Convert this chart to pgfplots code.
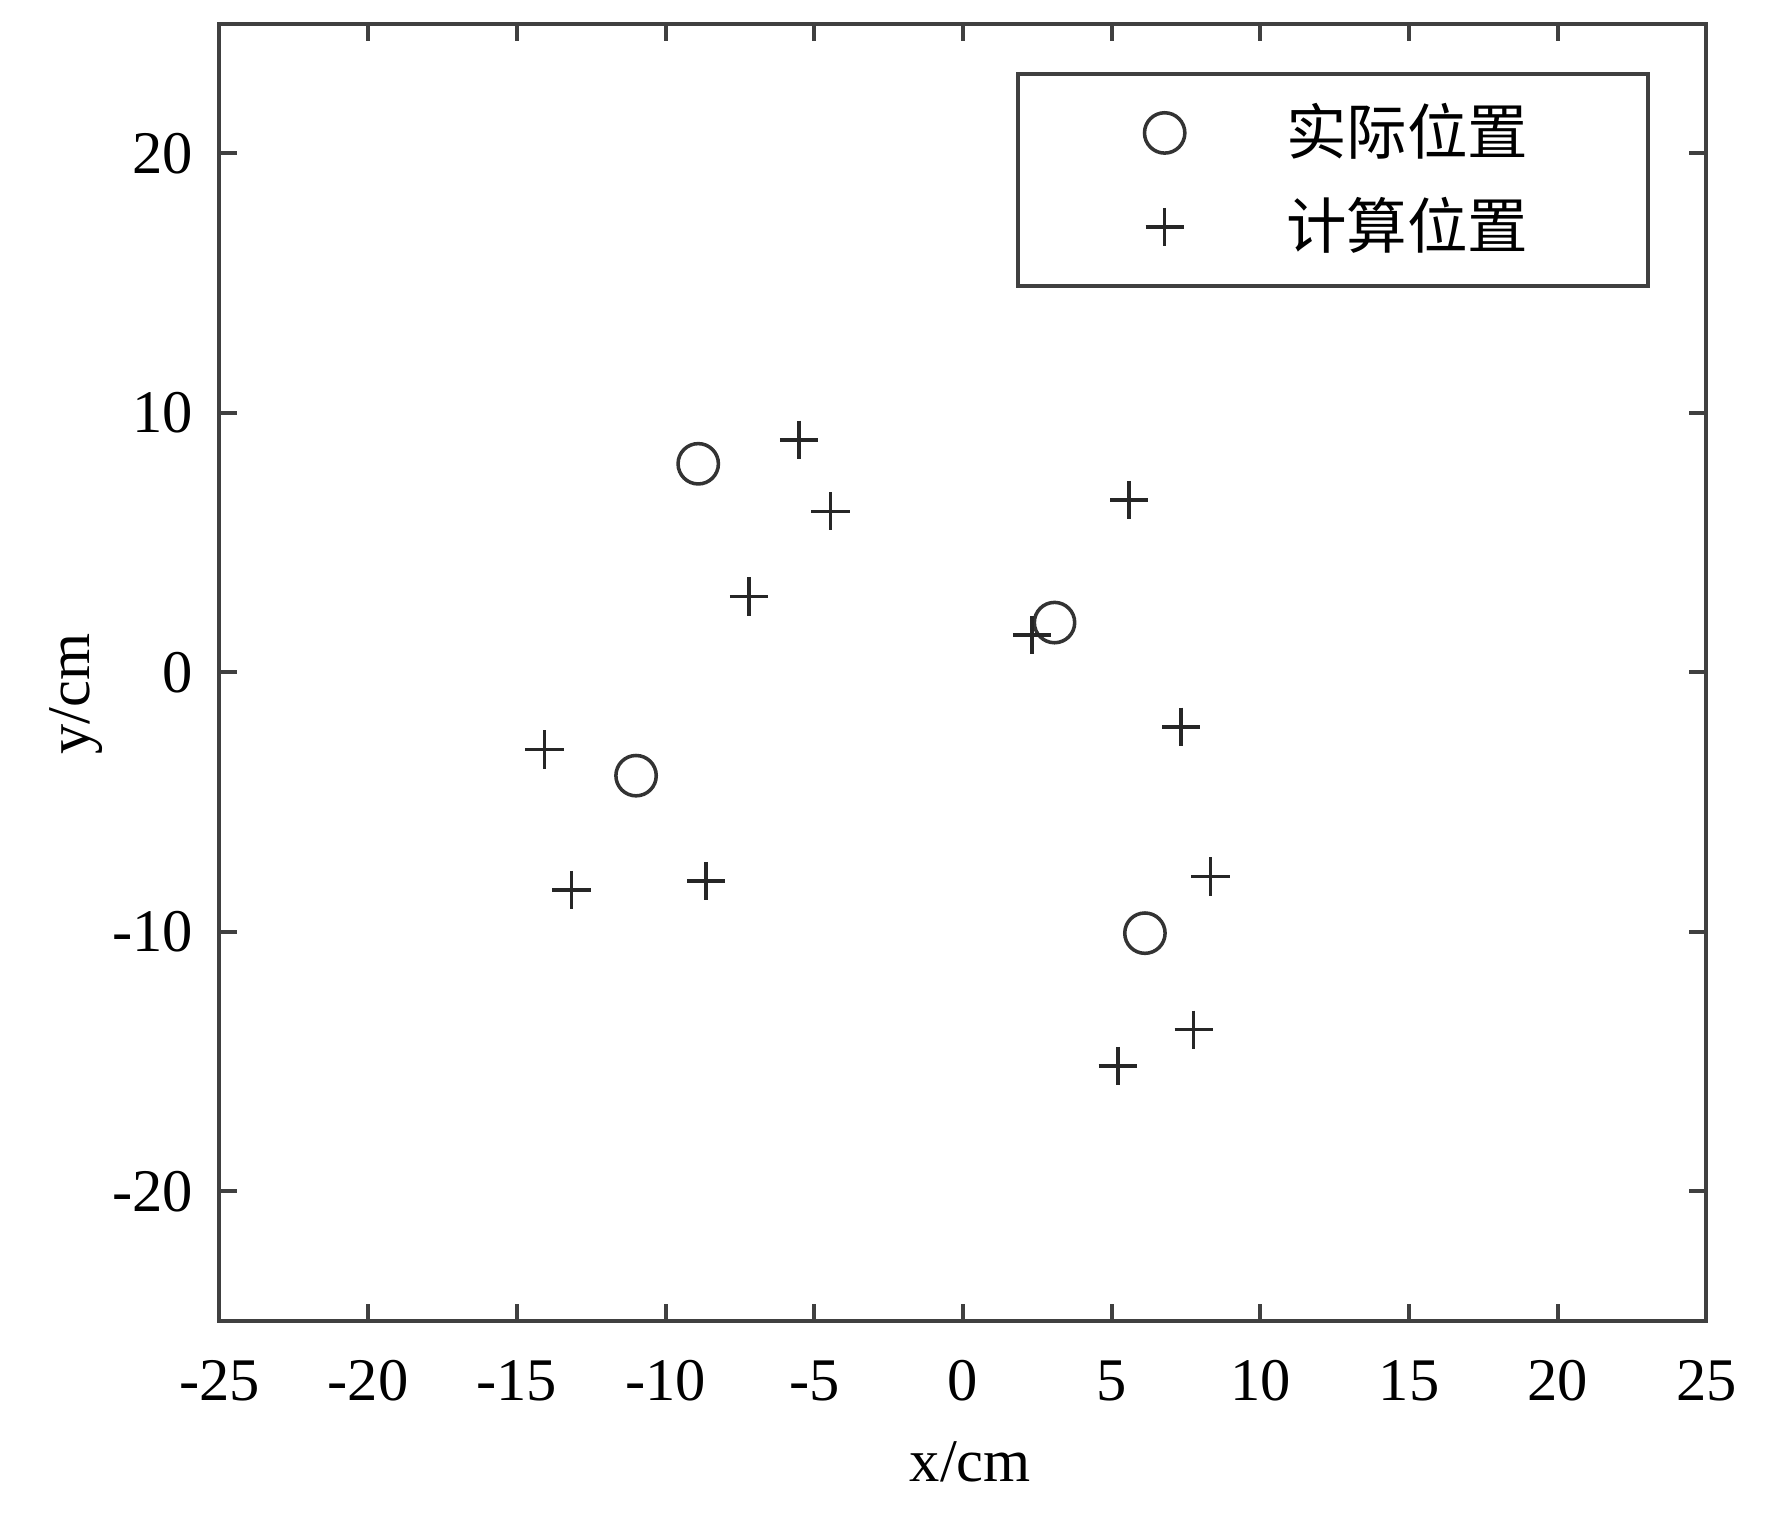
\documentclass[border=0pt]{standalone}
\usepackage{pgfplots}
\pgfplotsset{compat=1.18}
\usepackage{fontspec}
\setmainfont{Liberation Serif}
\newfontfamily\cjk{Noto Sans CJK SC}

\begin{document}
\begin{tikzpicture}
\useasboundingbox (-43.5pt,-41.2pt) rectangle (307.8pt,261.9pt);
\begin{axis}[
  scale only axis, width=294.8pt, height=257.2pt,
  xmin=-25, xmax=25, ymin=-25, ymax=25,
  xtick={-25,-20,...,25},
  xticklabels={-25,-20,-15,-10,-5,0,5,10,15,20,25},
  ytick={-20,-10,0,10,20},
  yticklabels={-20,-10,0,10,20},
  tick align=inside, major tick length=3.4pt,
  axis line style={black!75, line width=0.8pt},
  every tick/.style={black!75, line width=0.8pt},
  tick label style={font=\fontsize{12}{14}\selectfont, inner sep=0pt},
  xticklabel style={anchor=base, yshift=-15.7pt},
  yticklabel style={anchor=east, xshift=-5pt},
  xlabel={x/cm}, ylabel={y/cm},
  every axis x label/.style={at={(axis description cs:0.505,0)}, anchor=base,
    yshift=-31.8pt, inner sep=0pt, font=\fontsize{12}{14}\selectfont},
  every axis y label/.style={at={(axis description cs:0,0.483)}, xshift=-25.8pt,
    rotate=90, anchor=base, inner sep=0pt, font=\fontsize{12}{14}\selectfont},
  legend style={at={(axis description cs:0.962,0.963)}, anchor=north east,
    draw=black!75, line width=0.8pt, inner xsep=0pt, inner ysep=5.9pt, row sep=7pt,
    nodes={inner sep=0pt, font=\cjk\fontsize{12}{14}\selectfont}},
  legend cell align=left,
  legend image code/.code={\path (0pt,0pt) (52.4pt,0pt); \draw[#1] plot coordinates {(28.7pt,0pt)};},
]
\addplot[only marks, mark=o, mark size=4pt, mark options={black!80, line width=0.7pt}]
  coordinates {(-8.9,8.04) (3.08,1.92) (-10.99,-3.98) (6.12,-10.05)};
\addlegendentry{实际位置\hspace*{23.7pt}}
\addplot[only marks, mark=+, mark size=3.8pt, mark options={black!85, line width=0.7pt}]
  coordinates {(-5.51,8.96) (-4.45,6.21) (-7.19,2.93) (5.59,6.64) (2.32,1.44) (7.34,-2.10)
    (-14.07,-2.97) (-13.16,-8.39) (-8.63,-8.04) (8.33,-7.87) (7.76,-13.77) (5.21,-15.17)};
\addlegendentry{计算位置\hspace*{23.7pt}}
\end{axis}
\end{tikzpicture}
\end{document}
